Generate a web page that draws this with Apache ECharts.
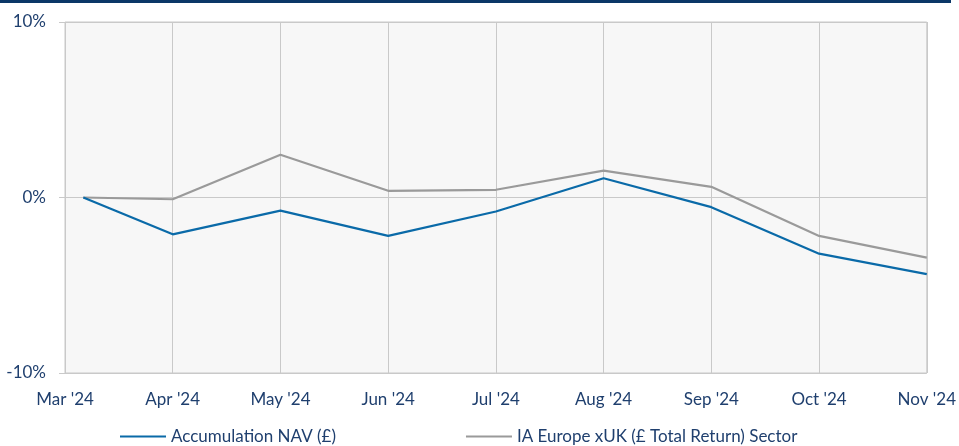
<!DOCTYPE html>
<html>
<head>
<meta charset="utf-8">
<script src="https://cdn.jsdelivr.net/npm/echarts@6/dist/echarts.min.js"></script>
<style>
  html, body { margin: 0; padding: 0; background: #fff; }
  #topbar { position: absolute; left: 0; top: 0; width: 951px; height: 3px; background: #0b3767; }
  #main_chart { width: 959px; height: 446px; }
</style>
</head>
<body>
<div id="topbar"></div>
<div id="main_chart"></div>
<script>
// tick labels along the bottom
const months = ["Mar '24", "Apr '24", "May '24", "Jun '24", "Jul '24", "Aug '24", "Sep '24", "Oct '24", "Nov '24"];
// position of each data point in months from the first tick (first point starts a few days in)
const monthIndex = [0.17, 1, 2, 3, 4, 5, 6, 7, 8];
// cumulative % performance
const navValues = [0, -2.1, -0.75, -2.19, -0.8, 1.1, -0.55, -3.2, -4.37];
const sectorValues = [0, -0.1, 2.44, 0.38, 0.44, 1.53, 0.61, -2.19, -3.43];

const textColor = '#1f3f6e';
const fontFamily = 'Lato, "Open Sans", sans-serif';

function pairs(xs, ys) {
    return ys.map(function (v, i) { return [xs[i], v]; });
}

const myChart = echarts.init(document.getElementById('main_chart'));

var option = {
    animation: false,
    textStyle: { fontFamily: fontFamily },
    grid: {
        left: 65, right: 31, top: 22, bottom: 73,
        show: true,
        backgroundColor: '#f7f7f7',
        borderColor: '#c9c9c9',
        borderWidth: 1
    },
    legend: {
        top: 428,
        left: 120,
        padding: 0,
        icon: 'rect',
        itemWidth: 46,
        itemHeight: 2,
        itemGap: 130,
        textStyle: { color: textColor, fontSize: 17, fontFamily: fontFamily },
        data: ['Accumulation NAV (£)', 'IA Europe xUK (£ Total Return) Sector']
    },
    xAxis: {
        type: 'value',
        min: 0,
        max: 8,
        interval: 1,
        axisLine: { show: false },
        axisTick: { show: false },
        axisLabel: {
            color: textColor,
            fontSize: 17,
            margin: 18,
            formatter: function (v) { return months[v]; }
        },
        splitLine: { show: true, lineStyle: { color: '#c9c9c9', width: 1 } }
    },
    yAxis: {
        type: 'value',
        min: -10,
        max: 10,
        interval: 10,
        axisLine: { show: false },
        axisTick: { show: true, length: 6, lineStyle: { color: '#c9c9c9' } },
        axisLabel: {
            color: textColor,
            fontSize: 17,
            margin: 19,
            formatter: '{value}%'
        },
        splitLine: { show: true, lineStyle: { color: '#c9c9c9', width: 1 } }
    },
    series: [
        {
            name: 'Accumulation NAV (£)',
            type: 'line',
            data: pairs(monthIndex, navValues),
            showSymbol: false,
            symbol: 'none',
            lineStyle: { color: '#0a6aa8', width: 2.2 },
            itemStyle: { color: '#0a6aa8' },
            z: 3
        },
        {
            name: 'IA Europe xUK (£ Total Return) Sector',
            type: 'line',
            data: pairs(monthIndex, sectorValues),
            showSymbol: false,
            symbol: 'none',
            lineStyle: { color: '#9a9a9a', width: 2.2 },
            itemStyle: { color: '#9a9a9a' },
            z: 2
        }
    ]
};

myChart.setOption(option);
window.onresize = function () {
    myChart.resize();
};
</script>
</body>
</html>
